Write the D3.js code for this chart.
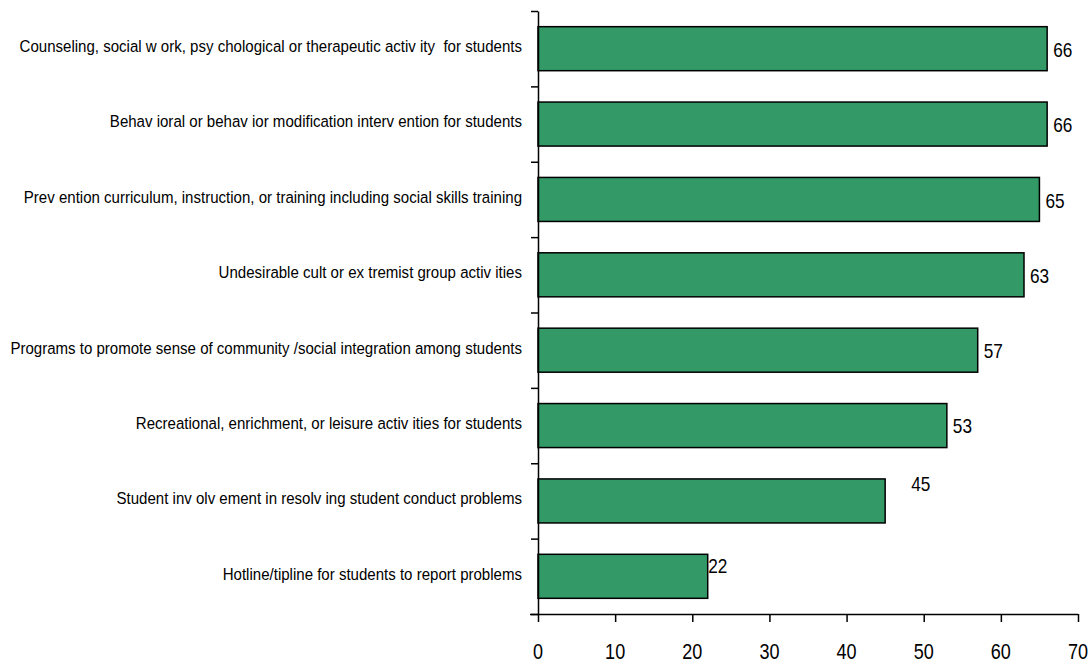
<!DOCTYPE html>
<html>
<head>
<meta charset="utf-8">
<script src="https://cdn.jsdelivr.net/npm/d3@7"></script>
<style>
  html, body { margin: 0; padding: 0; background: #fff; }
  svg { display: block; }
  text { fill: #000; }
</style>
</head>
<body>
<svg id="chart" width="1092" height="664"></svg>
<script>
// Activities offered to students (percent of schools)
const categories = [
  "Counseling, social w ork, psy chological or therapeutic activ ity  for students",
  "Behav ioral or behav ior modification interv ention for students",
  "Prev ention curriculum, instruction, or training including social skills training",
  "Undesirable cult or ex tremist group activ ities",
  "Programs to promote sense of community /social integration among students",
  "Recreational, enrichment, or leisure activ ities for students",
  "Student inv olv ement in resolv ing student conduct problems",
  "Hotline/tipline for students to report problems"
];
const values = [66, 66, 65, 63, 57, 53, 45, 22];
const xTicks = [0, 10, 20, 30, 40, 50, 60, 70];

// per-label nudges for the value labels [dx, dy]
const labelNudge = [[6, 1], [6, 1], [6, 1], [6, 1], [6, 0], [6, 0], [26, -17], [0.5, -11]];

const svg = d3.select("#chart");
const plotLeft = 538, plotRight = 1078, plotTop = 11, plotBottom = 614;
const fontFam = "'Liberation Sans', Arial, sans-serif";
const narrowLabel = 0.885; // horizontal squeeze for the category labels
const narrowNum = 0.82;    // horizontal squeeze for the numbers

const x = d3.scaleLinear().domain([0, 70]).range([plotLeft, plotRight]);
const y = d3.scaleBand().domain(categories).range([plotTop, plotBottom])
  .paddingInner(0.416).paddingOuter(0.208);

// band boundary scale for the left tick marks
const yEdge = d3.scaleLinear().domain([0, categories.length]).range([plotTop, plotBottom]);

// bars
svg.append("g").selectAll("rect").data(values).join("rect")
  .attr("x", x(0))
  .attr("y", (d, i) => y(categories[i]))
  .attr("width", d => x(d) - x(0))
  .attr("height", y.bandwidth())
  .attr("fill", "#339966")
  .attr("stroke", "#000")
  .attr("stroke-width", 1.5);

// left axis: line and boundary ticks
const yAxis = svg.append("g").attr("transform", `translate(${plotLeft},0)`)
  .call(d3.axisLeft(yEdge).tickValues(d3.range(categories.length + 1))
    .tickSize(7).tickSizeOuter(0).tickFormat(""));
yAxis.selectAll("path, line").attr("stroke", "#000").attr("stroke-width", 1.5);

// category labels
svg.append("g").selectAll("text").data(categories).join("text")
  .attr("transform", d => `translate(${plotLeft - 16},${y(d) + y.bandwidth() / 2}) scale(${narrowLabel},1)`)
  .attr("text-anchor", "end")
  .attr("dy", "0.2em")
  .attr("font-family", fontFam)
  .attr("font-size", 17)
  .style("white-space", "pre")
  .text(d => d);

// bottom axis
const xAxis = svg.append("g").attr("transform", `translate(0,${plotBottom})`)
  .call(d3.axisBottom(x).tickValues(xTicks).tickSize(8).tickSizeOuter(0).tickFormat(""));
xAxis.select(".domain").attr("d", `M${plotLeft - 8},0.5H${plotRight}`);
xAxis.selectAll("path, line").attr("stroke", "#000").attr("stroke-width", 1.5);

svg.append("g").selectAll("text").data(xTicks).join("text")
  .attr("transform", d => `translate(${x(d)},${plotBottom + 29}) scale(${narrowNum},1)`)
  .attr("text-anchor", "middle")
  .attr("dy", "0.71em")
  .attr("font-family", fontFam)
  .attr("font-size", 22)
  .text(d => d);

// value labels
svg.append("g").selectAll("text").data(values).join("text")
  .attr("transform", (d, i) => `translate(${x(d) + labelNudge[i][0]},${y(categories[i]) + y.bandwidth() / 2 + labelNudge[i][1]}) scale(${narrowNum},1)`)
  .attr("dy", "0.35em")
  .attr("font-family", fontFam)
  .attr("font-size", 21)
  .text(d => d);
</script>
</body>
</html>
